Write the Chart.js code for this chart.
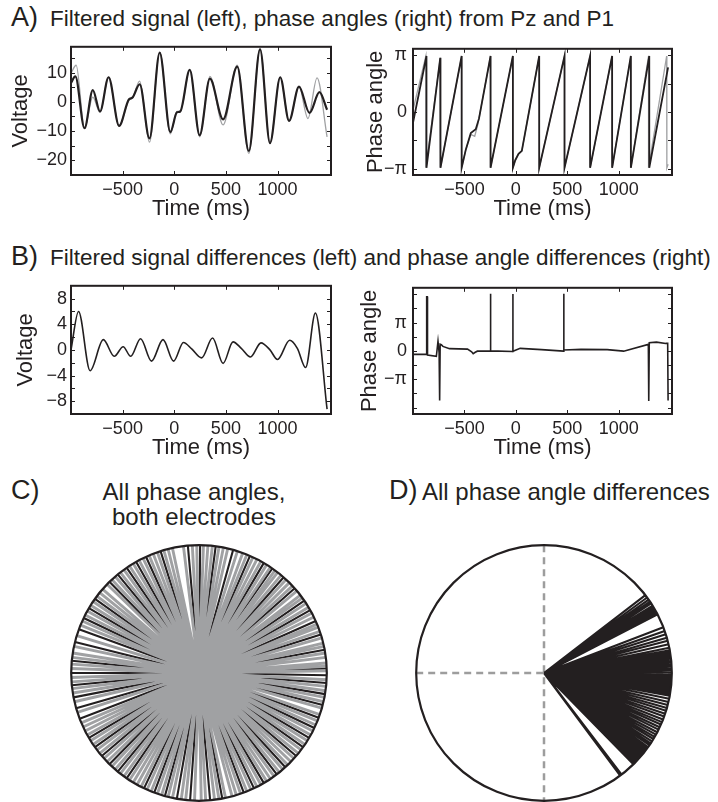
<!DOCTYPE html>
<html>
<head>
<meta charset="utf-8">
<script src="https://cdn.jsdelivr.net/npm/chart.js@4.4.1/dist/chart.umd.min.js"></script>
<style>
  body { margin: 0; background: #fff; }
  #page { position: relative; width: 718px; height: 802px; overflow: hidden; font-family: "Liberation Sans", Arial, sans-serif; color: #231f20; }
  .box { position: absolute; }
  .txt { position: absolute; white-space: nowrap; line-height: 1; }
  .lbl { font-size: 27px; }
  .ttl { font-size: 22.5px; }
  .sub { font-size: 24px; line-height: 25px; }
</style>
</head>
<body>
<div id="page">
  <div class="txt lbl" style="left:11px;top:4px">A)</div>
  <div class="txt ttl" style="left:50px;top:8px">Filtered signal (left), phase angles (right) from Pz and P1</div>
  <div class="box" style="left:0;top:32px;width:345px;height:198px"><canvas id="aLeft"></canvas></div>
  <div class="box" style="left:345px;top:32px;width:373px;height:198px"><canvas id="aRight"></canvas></div>

  <div class="txt lbl" style="left:11px;top:243px">B)</div>
  <div class="txt ttl" style="left:50px;top:247px">Filtered signal differences (left) and phase angle differences (right)</div>
  <div class="box" style="left:0;top:271px;width:345px;height:198px"><canvas id="bLeft"></canvas></div>
  <div class="box" style="left:345px;top:271px;width:373px;height:198px"><canvas id="bRight"></canvas></div>

  <div class="txt lbl" style="left:11px;top:477px">C)</div>
  <div class="txt sub" style="left:94px;top:479px;width:200px;text-align:center">All phase angles,<br>both electrodes</div>
  <div class="txt lbl" style="left:389px;top:477px">D)</div>
  <div class="txt sub" style="left:422px;top:479px">All phase angle differences</div>
  <div class="box" style="left:68px;top:542px;width:262px;height:262px"><canvas id="cPolar"></canvas></div>
  <div class="box" style="left:413px;top:542px;width:262px;height:262px"><canvas id="dPolar"></canvas></div>
</div>
<script>
// ---- data ----
const timeTicks = [-500, 0, 500, 1000];

// A left: filtered signal (black = Pz, gray = P1), extrema + shoulders
const pzTimes = [-1000, -958, -869, -789, -719, -636, -534, -438, -406, -335, -240, -141, -38, 26, 58, 150, 246, 345, 473, 610, 722, 831, 927, 1026, 1112, 1208, 1310, 1406, 1480];
const pzVolt = [6.5, 8.7, -9.0, 4.0, -3.3, 8.4, -8.2, 0.9, 1.4, 6.0, -12.5, 16.8, -10.3, -3.6, -3.3, 10.9, -11.4, 7.9, -6.0, 12.0, -16.8, 17.9, -14.1, 8.4, -6.5, 5.2, -3.8, 3.3, -2.7];
const p1Times = [-1000, -950, -869, -789, -719, -636, -534, -438, -406, -335, -240, -141, -38, 26, 58, 150, 246, 345, 473, 610, 722, 831, 927, 1026, 1112, 1208, 1295, 1383, 1480];
const p1Volt = [9.8, 12.5, -9.0, 1.6, -3.6, 8.4, -8.2, 0.6, 1.2, 7.1, -13.8, 17.0, -10.9, -3.3, -3.3, 10.9, -12.0, 8.7, -7.9, 12.5, -17.6, 18.2, -14.1, 8.4, -6.5, 5.2, -5.7, 8.2, -12.0];
const voltTicksA = [-20, -15, -10, -5, 0, 5, 10, 15];
const voltLabelsA = ['\u221220', '', '\u221210', '', '0', '', '10', ''];

// A right: phase angles (rad)
const pzPhaseTimes = [-1000, -869, -869, -735, -733, -527, -527, -486, -438, -390, -358, -246, -246, -29, -29, -6, 26, 58, 227, 227, 473, 473, 722, 722, 936, 936, 1118, 1118, 1297, 1297, 1480];
const pzPhase = [-0.6, 3.1, -3.1, 3.0, -3.1, 3.1, -3.1, -2.08, -1.17, -0.96, -0.36, 3.1, -3.1, 3.1, -3.1, -2.68, -2.33, -2.16, 3.1, -3.1, 3.1, -3.1, 3.1, -3.1, 3.1, -3.1, 3.1, -3.1, 3.1, -3.1, 2.47];
const p1PhaseTimes = [-1000, -875, -875, -735, -733, -527, -527, -486, -438, -400, -370, -246, -246, -29, -29, -6, 26, 58, 227, 227, 473, 473, 722, 722, 936, 936, 1118, 1118, 1290, 1290, 1466, 1468, 1480];
const p1Phase = [0.1, 3.1, -3.1, 3.0, -3.1, 3.1, -3.1, -2.08, -1.25, -1.35, -0.7, 3.1, -3.1, 3.1, -3.1, -2.68, -2.33, -2.16, 3.1, -3.1, 3.1, -3.1, 3.1, -3.1, 3.1, -3.1, 3.1, -3.1, 3.1, -3.1, 3.1, -3.1, -2.9];
const phaseTicksA = [-Math.PI, -Math.PI / 2, 0, Math.PI / 2, Math.PI];
const phaseLabelsA = ['\u2212\u03c0', '', '0', '', '\u03c0'];

// B left: signal difference
const diffTimes = [-1000, -927, -815, -687, -581, -495, -422, -326, -220, -109, -6, 89, 169, 265, 371, 473, 569, 649, 738, 840, 927, 1000, 1118, 1192, 1272, 1367, 1480];
const diffVolt = [0.0, 6.0, -3.25, 1.6, -1.0, 0.5, -1.0, 1.75, -1.75, 1.6, -1.75, 1.15, 0.15, -1.25, 1.85, -2.1, 1.25, 0.25, -1.1, 1.1, 0.0, -1.5, 1.5, 0.25, -2.75, 5.75, -9.25];
const voltTicksB = [-10, -8, -6, -4, -2, 0, 2, 4, 6, 8, 10];
const voltLabelsB = ['', '\u22128', '', '\u22124', '', '0', '', '4', '', '8', ''];

// B right: phase angle difference (rad)
const dphTimes = [-1000, -869, -867, -861, -859, -773, -757, -746, -741, -736, -725, -709, -645, -470, -430, -415, -395, -374, -247, -246, -245, -30, -29, -28, 42, 249, 465, 466, 467, 633, 888, 1048, 1288, 1292, 1297, 1367, 1457, 1476, 1480];
const dphVal = [-0.38, -0.38, 6.0, 6.0, -0.45, -0.59, 1.07, -0.2, -5.5, 0.75, 0.7, 0.5, 0.25, 0.2, -0.1, -0.31, -0.15, -0.03, 0.0, 6.35, 0.0, -0.07, 6.3, -0.05, 0.28, 0.14, -0.03, 6.35, 0.1, 0.17, 0.14, -0.03, 0.72, -5.56, 0.9, 0.97, 0.83, 0.83, -5.5];
const phaseTicksB = [-2 * Math.PI, -1.5 * Math.PI, -Math.PI, -Math.PI / 2, 0, Math.PI / 2, Math.PI, 1.5 * Math.PI, 2 * Math.PI];
const phaseLabelsB = ['', '', '\u2212\u03c0', '', '0', '', '\u03c0', '', ''];

// C: all phase angles (deg), gray = P1, black = Pz
const p1Angles = [1, 3, 4.5, 7, 9, 12, 13.5, 16, 19, 21, 22.5, 26, 28, 31, 33, 36, 37.5, 40, 43, 45, 47, 50, 52, 53.5, 56, 58,
  61, 63, 65, 68, 70, 72.5, 77, 79, 81, 84, 86, 88, 91, 93, 97, 102, 104, 106, 109, 111, 113, 116, 118,
  121, 123, 126, 128, 131, 133, 136, 139, 141, 143, 146, 148, 151, 153, 156, 158, 163, 168, 171, 173, 176, 178,
  182, 184, 187, 189, 193, 198, 203, 205, 207, 209, 212, 214, 217, 219, 222, 224, 227, 229, 232, 234, 237, 239,
  241, 243, 246, 248, 251, 253, 256, 258, 262, 264, 268, 271, 273, 277, 279, 282, 285, 287, 289, 292, 294, 297, 299,
  302, 304, 306, 309, 311, 314, 316, 318, 321, 323, 326, 328, 331, 333, 336, 338, 341, 344, 347, 349, 352, 354, 357];
const pzAngles = [2, 10.5, 17.5, 24, 29.5, 34.5, 41.5, 48.5, 55, 59.5, 66.5, 74.5, 82.5, 89.5, 95, 107.5, 114.5, 119.5,
  124.5, 129.5, 134.5, 144.5, 149.5, 154.5, 160, 166, 174.5, 180, 185.5, 191, 196, 201, 210.5, 215.5, 220.5, 225.5,
  230.5, 235.5, 244.5, 249.5, 254.5, 260, 266, 275, 280.5, 290.5, 295.5, 300.5, 307.5, 312.5, 319.5, 324.5, 329.5,
  334.5, 339.5, 345.5, 350.5, 355.5, 359];

// D: phase angle differences (deg)
const diffAngles = [37.5, 36.2, 35, 34, 33, 31.8, 30.9, 30, 29, 28.2, 27.3,
  21, 19.2, 17.6, 16, 14.6, 13, 11.4, 10.2,
  9.6, 9, 8.5, 7.8, 7.2, 6.6, 6.1, 5.4, 4.8, 4.1, 3.6, 2.9, 2.3, 1.7, 1.2, 0.5, 0, -0.6, -1.2, -1.7, -2.4, -3, -3.5,
  -4.2, -4.8, -5.3, -6, -6.6, -7.1, -7.8, -8.4, -8.9, -9.6, -10.2,
  -11.6, -13.1, -14.5, -15.9, -17.2, -18.6, -19.9, -21.3, -22.6, -23.8, -25.1, -26.3, -27.6, -28.8, -30, -31.1,
  -32.3, -33.4, -34.4, -35.5, -36.4, -37.3, -38.2, -39.1, -40, -40.8, -41.6, -42.4, -43.2, -44, -44.8, -45.6,
  -52.6, -53.4];

// ---- helpers ----
const ink = '#231f20';
const grayInk = '#a0a1a3';
Chart.defaults.font.family = '"Liberation Sans", Arial, sans-serif';
Chart.defaults.color = ink;

const zip = (xs, ys) => xs.map((x, i) => ({ x, y: ys[i] }));

const spokes = (angles) => {
  const pts = [];
  for (const a of angles) {
    const r = a * Math.PI / 180;
    pts.push({ x: 0, y: 0 }, { x: Math.cos(r), y: Math.sin(r) }, { x: 0, y: null });
  }
  return pts;
};

// box with inward ticks on all four sides, like the original
const frame = {
  id: 'frame',
  afterDatasetsDraw(chart) {
    const { ctx, chartArea: a, scales } = chart;
    ctx.save();
    ctx.strokeStyle = ink;
    ctx.lineWidth = 1;
    ctx.beginPath();
    for (const t of scales.x.ticks) {
      const px = Math.round(scales.x.getPixelForValue(t.value)) + 0.5;
      if (px <= a.left + 2 || px >= a.right - 2) continue;
      ctx.moveTo(px, a.bottom); ctx.lineTo(px, a.bottom - 4);
      ctx.moveTo(px, a.top); ctx.lineTo(px, a.top + 4);
    }
    for (const t of scales.y.ticks) {
      const py = Math.round(scales.y.getPixelForValue(t.value)) + 0.5;
      if (py <= a.top + 2 || py >= a.bottom - 2) continue;
      ctx.moveTo(a.left, py); ctx.lineTo(a.left + 4, py);
      ctx.moveTo(a.right, py); ctx.lineTo(a.right - 4, py);
    }
    ctx.stroke();
    ctx.lineWidth = 2;
    ctx.strokeRect(a.left, a.top, a.right - a.left, a.bottom - a.top);
    ctx.restore();
  }
};

const rim = {
  id: 'rim',
  beforeDatasetsDraw(chart, args, opts) {
    if (!opts.axes) return;
    const { ctx, scales: { x, y } } = chart;
    ctx.save();
    ctx.strokeStyle = '#9d9d9d';
    ctx.lineWidth = 2.5;
    ctx.setLineDash([7, 5]);
    ctx.beginPath();
    ctx.moveTo(x.getPixelForValue(-1), y.getPixelForValue(0));
    ctx.lineTo(x.getPixelForValue(1), y.getPixelForValue(0));
    ctx.moveTo(x.getPixelForValue(0), y.getPixelForValue(1));
    ctx.lineTo(x.getPixelForValue(0), y.getPixelForValue(-1));
    ctx.stroke();
    ctx.restore();
  },
  afterDatasetsDraw(chart) {
    const { ctx, scales: { x, y } } = chart;
    const cx = x.getPixelForValue(0);
    const cy = y.getPixelForValue(0);
    const r = x.getPixelForValue(1) - cx;
    ctx.save();
    ctx.strokeStyle = ink;
    ctx.lineWidth = 2.2;
    ctx.beginPath();
    ctx.arc(cx, cy, r, 0, Math.PI * 2);
    ctx.stroke();
    ctx.restore();
  }
};

const lineChart = (id, datasets, cfg) => new Chart(document.getElementById(id), {
  type: 'line',
  data: { datasets },
  options: {
    responsive: true,
    maintainAspectRatio: false,
    animation: false,
    layout: { padding: { top: 10, right: cfg.right, left: 0, bottom: 0 } },
    elements: { point: { radius: 0 } },
    plugins: { legend: { display: false }, tooltip: { enabled: false } },
    scales: {
      x: {
        type: 'linear',
        min: -1000,
        max: 1518,
        grid: { display: false, drawTicks: false },
        border: { display: false },
        afterBuildTicks: (s) => { s.ticks = timeTicks.map((v) => ({ value: v })); },
        afterFit: (s) => { s.height = 55; },
        ticks: {
          autoSkip: false, maxRotation: 0, padding: 4,
          font: { size: 18 },
          callback: (v) => String(v).replace('-', '\u2212'),
        },
        title: { display: true, text: 'Time (ms)', font: { size: 22 }, padding: { top: 0, bottom: 8 } },
      },
      y: {
        type: 'linear',
        min: cfg.yMin,
        max: cfg.yMax,
        grid: { display: false, drawTicks: false },
        border: { display: false },
        afterBuildTicks: (s) => { s.ticks = cfg.yTicks.map((v) => ({ value: v })); },
        afterFit: (s) => { s.width = cfg.yWidth; },
        ticks: {
          autoSkip: false, padding: cfg.yPad,
          font: { size: 18 },
          callback: (v, i) => cfg.yLabels[i],
        },
        title: { display: true, text: cfg.yTitle, font: { size: 22 }, padding: { top: cfg.titlePad, bottom: 0 } },
      },
    },
  },
  plugins: [frame],
});

// ---- A ----
lineChart('aLeft', [
  { data: zip(pzTimes, pzVolt), borderColor: ink, borderWidth: 2.2, cubicInterpolationMode: 'monotone', order: 0 },
  { data: zip(p1Times, p1Volt), borderColor: grayInk, borderWidth: 1.3, cubicInterpolationMode: 'monotone', order: 1 },
], { right: 14, yMin: -25, yMax: 18.8, yTicks: voltTicksA, yLabels: voltLabelsA, yWidth: 71, yPad: 4, yTitle: 'Voltage', titlePad: 8 });

lineChart('aRight', [
  { data: zip(pzPhaseTimes, pzPhase), borderColor: ink, borderWidth: 1.8, tension: 0, order: 0 },
  { data: zip(p1PhaseTimes, p1Phase), borderColor: grayInk, borderWidth: 1.3, tension: 0, order: 1 },
], { right: 46, yMin: -3.5, yMax: 3.5, yTicks: phaseTicksA, yLabels: phaseLabelsA, yWidth: 68, yPad: 6, yTitle: 'Phase angle', titlePad: 18 });

// ---- B ----
lineChart('bLeft', [
  { data: zip(diffTimes, diffVolt), borderColor: ink, borderWidth: 1.6, cubicInterpolationMode: 'monotone' },
], { right: 14, yMin: -10, yMax: 10, yTicks: voltTicksB, yLabels: voltLabelsB, yWidth: 71, yPad: 4, yTitle: 'Voltage', titlePad: 13 });

lineChart('bRight', [
  { data: zip(dphTimes, dphVal), borderColor: ink, borderWidth: 1.6, tension: 0 },
], { right: 46, yMin: -7, yMax: 7, yTicks: phaseTicksB, yLabels: phaseLabelsB, yWidth: 68, yPad: 6, yTitle: 'Phase angle', titlePad: 12 });

// ---- C and D ----
const polarChart = (id, datasets, axes) => new Chart(document.getElementById(id), {
  type: 'scatter',
  data: { datasets },
  options: {
    responsive: true,
    maintainAspectRatio: false,
    animation: false,
    layout: { padding: 0 },
    elements: { point: { radius: 0 } },
    plugins: { legend: { display: false }, tooltip: { enabled: false }, rim: { axes } },
    scales: {
      x: { type: 'linear', min: -1.025, max: 1.025, display: false },
      y: { type: 'linear', min: -1.025, max: 1.025, display: false },
    },
  },
  plugins: [rim],
});

polarChart('cPolar', [
  { data: spokes(p1Angles), showLine: true, borderColor: grayInk, borderWidth: 2.9, order: 0 },
  { data: spokes(pzAngles), showLine: true, borderColor: ink, borderWidth: 2.1, order: 1 },
], false);

polarChart('dPolar', [
  { data: spokes(diffAngles), showLine: true, borderColor: ink, borderWidth: 2.1 },
], true);
</script>
</body>
</html>
